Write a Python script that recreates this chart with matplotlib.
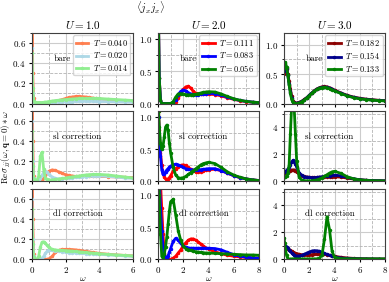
import matplotlib.pyplot as plt
from matplotlib.ticker import MultipleLocator

# omega grid shared by every curve
omega = [0, 0.05, 0.1, 0.2, 0.3, 0.4, 0.5, 0.6, 0.7, 0.8, 0.9, 1.0,
         1.2, 1.4, 1.6, 1.8, 2.0, 2.2, 2.4, 2.6, 2.8, 3.0, 3.2, 3.4, 3.6, 3.8,
         4.0, 4.5, 5.0, 5.5, 6.0, 6.5, 7.0, 7.5, 8.0]

# ── U = 1.0 ──────────────────────────────────────────────────────────────
temps_u1 = ["0.040", "0.020", "0.014"]
u1_bare_t040 = [1.5, 0.3, 0.05, 0.01, 0.005, 0.005, 0.005, 0.005, 0.006, 0.007, 0.008, 0.01,
                0.015, 0.02, 0.03, 0.04, 0.05, 0.06, 0.065, 0.07, 0.07, 0.068, 0.065, 0.06, 0.055, 0.05,
                0.045, 0.038, 0.03, 0.025, 0.02, 0.016, 0.013, 0.01, 0.008]
u1_bare_t020 = [0.55, 0.1, 0.02, 0.005, 0.003, 0.003, 0.003, 0.004, 0.005, 0.006, 0.007, 0.008,
                0.01, 0.012, 0.014, 0.016, 0.018, 0.019, 0.02, 0.021, 0.022, 0.022, 0.022, 0.022, 0.022, 0.021,
                0.02, 0.019, 0.017, 0.015, 0.013, 0.011, 0.01, 0.009, 0.008]
u1_bare_t014 = [0.5, 0.15, 0.03, 0.01, 0.01, 0.01, 0.01, 0.01, 0.012, 0.014, 0.016, 0.02,
                0.025, 0.03, 0.033, 0.036, 0.04, 0.042, 0.045, 0.048, 0.05, 0.05, 0.05, 0.05, 0.05, 0.05,
                0.05, 0.045, 0.04, 0.035, 0.03, 0.026, 0.022, 0.019, 0.016]

u1_sl_t040 = [1.5, 0.4, 0.05, 0.0, 0.0, 0.0, 0.0, 0.01, 0.03, 0.06, 0.08, 0.1,
              0.115, 0.11, 0.095, 0.08, 0.068, 0.06, 0.055, 0.05, 0.05, 0.05, 0.05, 0.05, 0.05, 0.05,
              0.05, 0.048, 0.045, 0.042, 0.038, 0.035, 0.032, 0.03, 0.028]
u1_sl_t020 = [0.6, 0.2, 0.03, 0.0, 0.0, 0.01, 0.03, 0.06, 0.09, 0.1, 0.09, 0.07,
              0.045, 0.03, 0.025, 0.025, 0.03, 0.033, 0.036, 0.04, 0.042, 0.045, 0.048, 0.05, 0.053, 0.055,
              0.055, 0.05, 0.045, 0.035, 0.03, 0.025, 0.02, 0.017, 0.015]
u1_sl_t014 = [0.5, 0.15, 0.02, 0.0, 0.01, 0.05, 0.25, 0.29, 0.12, 0.03, 0.02, 0.015,
              0.015, 0.02, 0.025, 0.03, 0.035, 0.04, 0.045, 0.05, 0.055, 0.06, 0.065, 0.068, 0.07, 0.07,
              0.07, 0.065, 0.055, 0.045, 0.035, 0.03, 0.025, 0.02, 0.018]

u1_dl_t040 = [1.5, 0.4, 0.05, 0.0, 0.0, 0.0, 0.0, 0.0, 0.0, 0.0, 0.002, 0.005,
              0.03, 0.07, 0.09, 0.1, 0.1, 0.1, 0.098, 0.095, 0.09, 0.085, 0.08, 0.075, 0.07, 0.065,
              0.06, 0.052, 0.045, 0.04, 0.035, 0.03, 0.027, 0.024, 0.021]
u1_dl_t020 = [0.6, 0.2, 0.03, 0.0, 0.0, 0.0, 0.0, 0.01, 0.03, 0.06, 0.08, 0.09,
              0.09, 0.085, 0.08, 0.075, 0.07, 0.068, 0.066, 0.064, 0.062, 0.06, 0.058, 0.056, 0.054, 0.052,
              0.05, 0.045, 0.04, 0.035, 0.03, 0.027, 0.024, 0.021, 0.019]
u1_dl_t014 = [0.5, 0.15, 0.02, 0.0, 0.0, 0.03, 0.12, 0.17, 0.175, 0.16, 0.14, 0.12,
              0.1, 0.095, 0.09, 0.09, 0.088, 0.085, 0.082, 0.079, 0.076, 0.072, 0.069, 0.066, 0.063, 0.06,
              0.057, 0.05, 0.045, 0.04, 0.035, 0.031, 0.028, 0.025, 0.022]

# ── U = 2.0 ──────────────────────────────────────────────────────────────
temps_u2 = ["0.111", "0.083", "0.056"]
u2_bare_t111 = [3.0, 1.2, 0.4, 0.05, 0.0, 0.0, 0.0, 0.0, 0.0, 0.0, 0.0, 0.0,
                0.0, 0.02, 0.08, 0.16, 0.22, 0.26, 0.27, 0.24, 0.19, 0.16, 0.15, 0.145, 0.145, 0.145,
                0.145, 0.14, 0.12, 0.09, 0.065, 0.045, 0.03, 0.02, 0.015]
u2_bare_t083 = [3.0, 1.2, 0.4, 0.05, 0.0, 0.0, 0.0, 0.0, 0.0, 0.0, 0.0, 0.0,
                0.01, 0.06, 0.14, 0.19, 0.21, 0.2, 0.17, 0.15, 0.14, 0.14, 0.14, 0.145, 0.15, 0.155,
                0.16, 0.155, 0.13, 0.1, 0.07, 0.048, 0.032, 0.022, 0.015]
u2_bare_t056 = [3.0, 1.2, 0.4, 0.05, 0.0, 0.0, 0.0, 0.0, 0.0, 0.0, 0.0, 0.0,
                0.03, 0.1, 0.15, 0.155, 0.15, 0.14, 0.135, 0.135, 0.14, 0.145, 0.155, 0.165, 0.175, 0.18,
                0.185, 0.18, 0.15, 0.11, 0.075, 0.05, 0.033, 0.022, 0.015]

u2_sl_t111 = [1.5, 1.1, 0.8, 0.45, 0.25, 0.13, 0.07, 0.04, 0.03, 0.04, 0.06, 0.09,
              0.16, 0.2, 0.23, 0.25, 0.26, 0.25, 0.22, 0.19, 0.16, 0.15, 0.15, 0.155, 0.165, 0.175,
              0.185, 0.19, 0.17, 0.13, 0.09, 0.06, 0.04, 0.025, 0.015]
u2_sl_t083 = [1.5, 1.0, 0.7, 0.4, 0.18, 0.11, 0.12, 0.15, 0.18, 0.2, 0.22, 0.24,
              0.26, 0.27, 0.26, 0.24, 0.22, 0.2, 0.19, 0.185, 0.18, 0.18, 0.18, 0.185, 0.19, 0.195,
              0.2, 0.2, 0.17, 0.13, 0.09, 0.06, 0.04, 0.025, 0.015]
u2_sl_t056 = [1.5, 1.1, 0.85, 0.6, 0.5, 0.55, 0.7, 0.85, 0.88, 0.8, 0.6, 0.45,
              0.22, 0.1, 0.06, 0.05, 0.06, 0.08, 0.11, 0.14, 0.17, 0.2, 0.23, 0.26, 0.28, 0.29,
              0.3, 0.28, 0.22, 0.15, 0.1, 0.065, 0.04, 0.025, 0.015]

u2_dl_t111 = [3.0, 2.2, 1.8, 1.2, 0.8, 0.4, 0.1, 0.02, 0.0, 0.0, 0.0, 0.0,
              0.02, 0.05, 0.1, 0.15, 0.21, 0.26, 0.3, 0.32, 0.32, 0.3, 0.27, 0.24, 0.21, 0.18,
              0.16, 0.12, 0.09, 0.065, 0.05, 0.04, 0.03, 0.025, 0.02]
u2_dl_t083 = [3.0, 1.8, 1.3, 0.8, 0.45, 0.2, 0.07, 0.03, 0.03, 0.06, 0.11, 0.17,
              0.28, 0.33, 0.3, 0.25, 0.21, 0.19, 0.18, 0.175, 0.175, 0.175, 0.175, 0.175, 0.175, 0.175,
              0.175, 0.17, 0.15, 0.11, 0.075, 0.05, 0.035, 0.025, 0.02]
u2_dl_t056 = [3.0, 1.5, 1.0, 0.4, 0.05, 0.02, 0.08, 0.2, 0.35, 0.55, 0.75, 0.9,
              0.94, 0.7, 0.45, 0.3, 0.21, 0.17, 0.15, 0.14, 0.13, 0.12, 0.115, 0.11, 0.105, 0.1,
              0.1, 0.095, 0.09, 0.085, 0.08, 0.075, 0.07, 0.07, 0.065]

# ── U = 3.0 ──────────────────────────────────────────────────────────────
temps_u3 = ["0.182", "0.154", "0.133"]
u3_bare_t182 = [0.5, 0.58, 0.6, 0.58, 0.5, 0.38, 0.25, 0.13, 0.05, 0.02, 0.01, 0.01,
                0.02, 0.04, 0.07, 0.1, 0.14, 0.18, 0.22, 0.25, 0.27, 0.285, 0.29, 0.285, 0.27, 0.25,
                0.23, 0.18, 0.14, 0.11, 0.09, 0.075, 0.065, 0.055, 0.05]
u3_bare_t154 = [0.55, 0.63, 0.65, 0.6, 0.48, 0.33, 0.2, 0.09, 0.03, 0.01, 0.005, 0.005,
                0.015, 0.035, 0.065, 0.1, 0.14, 0.18, 0.215, 0.245, 0.265, 0.275, 0.28, 0.275, 0.26, 0.24,
                0.22, 0.175, 0.135, 0.105, 0.085, 0.07, 0.06, 0.052, 0.047]
u3_bare_t133 = [0.6, 0.69, 0.7, 0.62, 0.48, 0.32, 0.18, 0.07, 0.02, 0.005, 0.0, 0.0,
                0.01, 0.03, 0.06, 0.095, 0.135, 0.175, 0.21, 0.24, 0.26, 0.27, 0.275, 0.27, 0.255, 0.235,
                0.215, 0.17, 0.13, 0.1, 0.08, 0.067, 0.057, 0.05, 0.045]

u3_sl_t182 = [0.6, 0.62, 0.63, 0.66, 0.7, 0.75, 0.8, 0.84, 0.85, 0.83, 0.78, 0.7,
              0.55, 0.44, 0.37, 0.33, 0.31, 0.3, 0.3, 0.3, 0.31, 0.32, 0.33, 0.34, 0.35, 0.35,
              0.35, 0.32, 0.25, 0.18, 0.13, 0.09, 0.07, 0.055, 0.045]
u3_sl_t154 = [0.7, 0.72, 0.75, 0.8, 0.9, 1.05, 1.25, 1.45, 1.55, 1.5, 1.3, 1.05,
              0.65, 0.45, 0.36, 0.32, 0.3, 0.29, 0.29, 0.3, 0.32, 0.35, 0.38, 0.41, 0.44, 0.46,
              0.47, 0.42, 0.3, 0.2, 0.13, 0.09, 0.07, 0.055, 0.045]
u3_sl_t133 = [0.3, 0.3, 0.32, 0.4, 0.6, 1.2, 3.5, 5.5, 6.5, 5.5, 3.5, 1.5,
              0.3, 0.1, 0.06, 0.05, 0.05, 0.06, 0.08, 0.12, 0.18, 0.27, 0.38, 0.5, 0.62, 0.71,
              0.75, 0.6, 0.35, 0.2, 0.12, 0.08, 0.06, 0.05, 0.04]

u3_dl_t182 = [0.8, 0.85, 0.87, 0.85, 0.8, 0.73, 0.66, 0.6, 0.55, 0.5, 0.46, 0.43,
              0.38, 0.35, 0.34, 0.34, 0.35, 0.36, 0.37, 0.38, 0.39, 0.39, 0.38, 0.35, 0.31, 0.27,
              0.23, 0.16, 0.11, 0.08, 0.06, 0.05, 0.04, 0.035, 0.03]
u3_dl_t154 = [0.9, 1.0, 1.0, 0.95, 0.85, 0.72, 0.6, 0.48, 0.38, 0.31, 0.27, 0.25,
              0.26, 0.3, 0.38, 0.47, 0.55, 0.62, 0.65, 0.64, 0.6, 0.53, 0.45, 0.37, 0.3, 0.24,
              0.19, 0.11, 0.07, 0.05, 0.04, 0.035, 0.03, 0.025, 0.02]
u3_dl_t133 = [1.55, 1.2, 0.8, 0.3, 0.05, 0.02, 0.03, 0.04, 0.04, 0.04, 0.04, 0.04,
              0.04, 0.04, 0.04, 0.04, 0.04, 0.04, 0.04, 0.05, 0.1, 0.3, 1.5, 3.15, 2.2, 0.6,
              0.15, 0.06, 0.05, 0.045, 0.04, 0.04, 0.04, 0.04, 0.04]

row_names = ["bare", "sl correction", "dl correction"]

# ── 样式 ──────────────────────────────────────────────────────────────────
plt.rcParams.update({
    "font.family": "serif",
    "font.serif": ["cmr10", "DejaVu Serif"],
    "mathtext.fontset": "cm",
    "axes.formatter.use_mathtext": True,
    "axes.edgecolor": "0.25",
    "axes.linewidth": 0.8,
    "xtick.labelsize": 6.5,
    "ytick.labelsize": 6.5,
    "xtick.major.size": 2.5,
    "ytick.major.size": 2.5,
    "xtick.minor.size": 1.5,
    "ytick.minor.size": 1.5,
    "xtick.major.pad": 1.5,
    "ytick.major.pad": 2,
})

columns = [
    # (U, temps, colours, [bare, sl, dl], xmax, [(ymax, major) per row])
    ("1.0", temps_u1, ["coral", "lightblue", "lightgreen"],
     [[u1_bare_t040, u1_bare_t020, u1_bare_t014],
      [u1_sl_t040, u1_sl_t020, u1_sl_t014],
      [u1_dl_t040, u1_dl_t020, u1_dl_t014]],
     6, [(0.7, 0.2), (0.7, 0.2), (0.7, 0.2)]),
    ("2.0", temps_u2, ["red", "blue", "green"],
     [[u2_bare_t111, u2_bare_t083, u2_bare_t056],
      [u2_sl_t111, u2_sl_t083, u2_sl_t056],
      [u2_dl_t111, u2_dl_t083, u2_dl_t056]],
     8, [(1.1, 0.5), (1.1, 0.5), (1.1, 0.5)]),
    ("3.0", temps_u3, ["darkred", "darkblue", "green"],
     [[u3_bare_t182, u3_bare_t154, u3_bare_t133],
      [u3_sl_t182, u3_sl_t154, u3_sl_t133],
      [u3_dl_t182, u3_dl_t154, u3_dl_t133]],
     8, [(1.2, 0.5), (5.2, 2), (5.2, 2)]),
]

fig, axes = plt.subplots(3, 3, figsize=(3.89, 2.82), dpi=100)
fig.subplots_adjust(left=0.082, right=0.99, top=0.883, bottom=0.08,
                    wspace=0.2475, hspace=0.105)

for j, (U, temps, colors, panels, xmax, ylims) in enumerate(columns):
    for i, series in enumerate(panels):
        ax = axes[i, j]
        for vals, T, c in zip(series, temps, colors):
            ax.plot(omega, vals, color=c, lw=2, marker=".", ms=3,
                    label=f"$T = {T}$")
        ymax, major = ylims[i]
        ax.set_xlim(0, xmax)
        ax.set_ylim(0, ymax)
        ax.xaxis.set_major_locator(MultipleLocator(2))
        ax.xaxis.set_minor_locator(MultipleLocator(1))
        ax.yaxis.set_major_locator(MultipleLocator(major))
        ax.yaxis.set_minor_locator(MultipleLocator(major / 2))
        ax.grid(which="major", color="0.8", lw=0.8)
        ax.grid(which="minor", color="0.7", lw=0.6, ls="--")
        ax.set_axisbelow(True)
        if i == 0:
            ax.set_title(f"$U = {U}$", fontsize=8, pad=3)
            ax.legend(loc="upper right", fontsize=6, handlelength=1.5,
                      labelspacing=0.25, borderpad=0.35, borderaxespad=0.3,
                      handletextpad=0.5)
            ax.text(0.3, 0.63, row_names[i], transform=ax.transAxes,
                    ha="center", va="center", fontsize=6.5)
        else:
            ax.text(0.45, 0.64, row_names[i], transform=ax.transAxes,
                    ha="center", va="center", fontsize=6.5)
        if i < 2:
            ax.tick_params(axis="x", labelbottom=False)
        else:
            ax.set_xlabel(r"$\omega$", fontsize=6.5)
            ax.xaxis.set_label_coords(0.5, -0.21)

fig.text(0.016, 0.479, r"Re$\,\sigma_{jj}(\omega,\mathbf{q}=0)*\omega$",
         rotation=90, ha="center", va="center", fontsize=6.5)
fig.text(0.386, 0.972, r"$\langle j_x j_x\rangle$", ha="center", va="center", fontsize=7.5)

plt.savefig("out.png", dpi=100)
